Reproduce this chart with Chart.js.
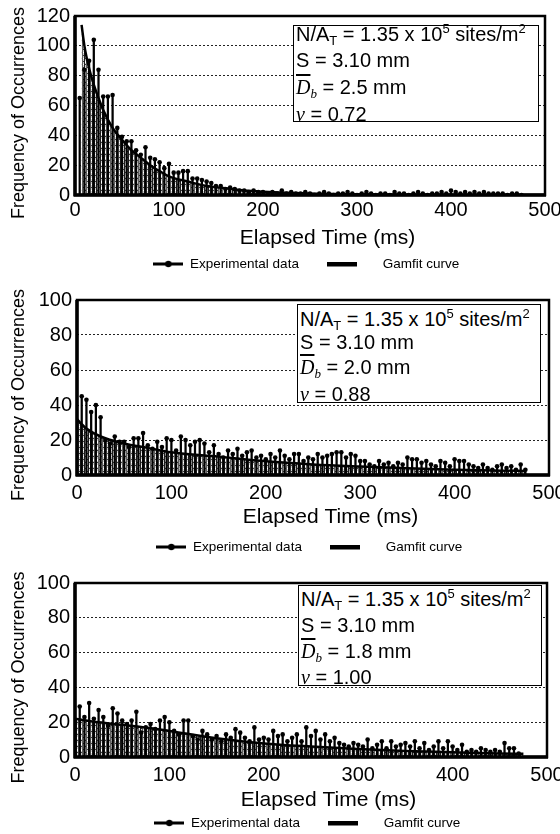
<!DOCTYPE html>
<html>
<head>
<meta charset="utf-8">
<title>Bubble departure time distributions</title>
<script src="https://cdn.jsdelivr.net/npm/chart.js@4.4.0/dist/chart.umd.min.js"></script>
<style>
  html, body { margin: 0; padding: 0; background: #fff; }
  body { position: relative; width: 560px; height: 834px; overflow: hidden; font-family: "Liberation Sans", Arial, sans-serif; }
  canvas { position: absolute; left: 0; }
  .info { position: absolute; box-sizing: border-box; background: #fff; border: 1.5px solid #000; color: #000; font-size: 20px; }
  .info div { position: absolute; left: 2px; line-height: 20px; white-space: nowrap; }
  .sub { font-size: 13px; position: relative; top: 4px; }
  .sup { font-size: 13px; position: relative; top: -8px; }
  .serif { font-family: "Liberation Serif", "Times New Roman", serif; font-style: italic; }
  .ov { text-decoration: overline; }
</style>
</head>
<body>
<script>
// ---- data ----
const binTimes = [
  5, 10, 15, 20, 25, 30, 35, 40, 45, 50,
  55, 60, 65, 70, 75, 80, 85, 90, 95, 100,
  105, 110, 115, 120, 125, 130, 135, 140, 145, 150,
  155, 160, 165, 170, 175, 180, 185, 190, 195, 200,
  205, 210, 215, 220, 225, 230, 235, 240, 245, 250,
  255, 260, 265, 270, 275, 280, 285, 290, 295, 300,
  305, 310, 315, 320, 325, 330, 335, 340, 345, 350,
  355, 360, 365, 370, 375, 380, 385, 390, 395, 400,
  405, 410, 415, 420, 425, 430, 435, 440, 445, 450,
  455, 460, 465, 470, 475, 480
];

const expFreq1 = [
  65, 84, 90, 104, 84, 66, 66, 67, 45, 39,
  36, 36, 30, 27, 32, 25, 24, 22, 18, 21,
  15, 15, 16, 16, 11, 11, 10, 9, 8, 6,
  6, 4, 5, 4, 3, 3, 2, 3, 2, 2,
  1, 2, 1, 3, 1, 2, 1, 1, 2, 1,
  0, 1, 2, 1, 0, 1, 1, 2, 1, 0,
  1, 2, 1, 0, 1, 1, 0, 2, 1, 1,
  0, 1, 2, 1, 0, 1, 1, 2, 1, 3,
  2, 1, 2, 1, 2, 1, 2, 1, 1, 1,
  1, 0, 1, 1, 0, null
];

const expFreq2 = [
  45, 43, 36, 40, 33, 20, 18, 22, 19, 19,
  16, 21, 21, 24, 17, 15, 19, 16, 21, 20,
  14, 22, 20, 17, 19, 20, 18, 13, 17, 12,
  10, 14, 12, 15, 11, 13, 14, 10, 11, 9,
  12, 10, 14, 11, 9, 12, 12, 8, 10, 9,
  12, 10, 11, 12, 13, 13, 10, 12, 11, 8,
  8, 6, 5, 8, 6, 7, 5, 7, 6, 10,
  9, 9, 7, 8, 6, 5, 8, 7, 5, 9,
  8, 8, 6, 5, 4, 6, 4, 3, 5, 6,
  4, 5, 3, 6, 3, null
];

const expFreq3 = [
  29, 23, 31, 22, 27, 23, 18, 28, 25, 21,
  19, 21, 26, 14, 17, 19, 16, 21, 23, 20,
  15, 13, 21, 21, 12, 10, 15, 13, 10, 12,
  9, 13, 11, 16, 14, 11, 9, 17, 10, 11,
  10, 15, 12, 13, 9, 11, 13, 9, 17, 12,
  15, 10, 13, 9, 11, 8, 7, 6, 8, 7,
  6, 10, 5, 7, 9, 5, 9, 6, 7, 8,
  6, 9, 5, 8, 4, 6, 9, 5, 9, 6,
  4, 7, 3, 4, 3, 5, 4, 3, 4, 3,
  8, 5, 5, 2, null, null
];

const fitTimes1 = [7, 10, 15, 20, 25, 30, 40, 50, 60, 70, 80, 90, 100, 120, 140, 160, 180, 200, 250, 300, 350, 400, 450, 500];
const fitFreq1  = [114, 100, 85, 74, 65, 57, 45, 37, 30, 25, 20, 16, 12.5, 9, 6, 4.5, 3, 2.2, 1, 0.5, 0.2, 0.1, 0, 0];
const fitTimes2 = [0, 5, 10, 25, 50, 75, 100, 150, 200, 250, 300, 350, 400, 450, 475];
const fitFreq2  = [32, 29, 26.5, 22, 18, 15.5, 13, 10.5, 7.8, 6, 4.8, 3.8, 3, 2.5, 2.3];
const fitTimes3 = [0, 25, 50, 75, 100, 150, 200, 250, 300, 350, 400, 450, 475];
const fitFreq3  = [22, 20, 18.5, 17, 15, 10.8, 7.8, 6, 4.6, 3.5, 2.7, 2, 1.8];

const xTicks = [0, 100, 200, 300, 400, 500];
const yTicksTall = [0, 20, 40, 60, 80, 100, 120];
const yTicksShort = [0, 20, 40, 60, 80, 100];

const siteDensity = '1.35';
const siteExponent = '5';
const spacing = '3.10';
const bubbleDiam = ['2.5', '2.0', '1.8'];
const nuValues = ['0.72', '0.88', '1.00'];

const expSeries = [expFreq1, expFreq2, expFreq3];
const fitTimes = [fitTimes1, fitTimes2, fitTimes3];
const fitFreqs = [fitFreq1, fitFreq2, fitFreq3];
const yTickSets = [yTicksTall, yTicksShort, yTicksShort];

// ---- layout (page pixels, each panel is its own canvas) ----
const CANVAS_H = 290;  // canvases overlap a little, they are transparent
const layout = [
  { top: 0,   area: { top: 16, bottom: 195, left: 75, right: 545 }, tickY: 210, titleY: 238, legendY: 264,
    box: { left: 293, top: 25, width: 246, height: 97 },  lines: [-2.5, 24, 51, 77.5] },
  { top: 278, area: { top: 22, bottom: 197, left: 77, right: 549 }, tickY: 215, titleY: 239, legendY: 269,
    box: { left: 297, top: 304, width: 244, height: 99 }, lines: [3.5, 26.5, 51.5, 78.5] },
  { top: 556, area: { top: 27, bottom: 201, left: 75, right: 547 }, tickY: 219, titleY: 244, legendY: 267,
    box: { left: 298, top: 585, width: 244, height: 101 }, lines: [2.5, 29, 54.5, 80.5] }
];

const FONT = '"Liberation Sans", Arial, sans-serif';
Chart.defaults.font.family = FONT;
Chart.defaults.color = '#000';

// speckled vertical hatch like the printed histogram
function makeHatch() {
  const c = document.createElement('canvas');
  c.width = 4; c.height = 6;
  const g = c.getContext('2d');
  g.fillStyle = '#cfcfcf'; g.fillRect(0, 0, 4, 6);
  g.fillStyle = '#1c1c1c'; g.fillRect(0, 0, 1, 6);
  g.fillStyle = '#5e5e5e'; g.fillRect(2, 0, 1, 6);
  g.fillStyle = '#ffffff'; g.fillRect(1, 1, 1, 2); g.fillRect(3, 4, 1, 1);
  g.fillStyle = '#3a3a3a'; g.fillRect(3, 1, 1, 1); g.fillRect(1, 4, 1, 1);
  return g.createPattern(c, 'repeat');
}
const hatch = makeHatch();

function legendIcon(kind) {
  const c = document.createElement('canvas');
  c.width = 30; c.height = 10;
  const g = c.getContext('2d');
  g.fillStyle = '#000';
  if (kind === 'exp') {
    g.fillRect(0, 3.5, 30, 3);
    g.beginPath(); g.arc(15, 5, 3.2, 0, Math.PI * 2); g.fill();
  } else {
    g.fillRect(0, 3, 30, 4.5);
  }
  return c;
}
const expIcon = legendIcon('exp');
const fitIcon = legendIcon('fit');

const framePlugin = {
  id: 'frame',
  afterDatasetsDraw(chart) {
    const { ctx, chartArea: a } = chart;
    ctx.save();
    ctx.strokeStyle = '#000';
    ctx.lineWidth = 2.5;
    ctx.strokeRect(a.left, a.top, a.right - a.left, a.bottom - a.top);
    ctx.lineWidth = 3.5;
    ctx.beginPath();
    ctx.moveTo(a.left, a.top); ctx.lineTo(a.left, a.bottom + 1.5);
    ctx.moveTo(a.left - 1, a.bottom); ctx.lineTo(a.right + 1, a.bottom);
    ctx.stroke();
    ctx.restore();
  }
};

const LEG_FONT = 13.5, LEG_PAD = 2, LEG_EXTRA = 8;

function buildPanel(i) {
  const p = layout[i];
  const canvas = document.createElement('canvas');
  canvas.width = 560; canvas.height = CANVAS_H;
  canvas.style.top = p.top + 'px';
  document.body.appendChild(canvas);

  const expPoints = binTimes
    .map((t, k) => ({ x: t, y: expSeries[i][k] }))
    .filter(d => d.y !== null);
  const fitPoints = fitTimes[i].map((t, k) => ({ x: t, y: fitFreqs[i][k] }));
  const yTicks = yTickSets[i];

  const legendTop = p.legendY - LEG_PAD - LEG_FONT / 2;
  const legendH = LEG_FONT + 2 * LEG_PAD + LEG_EXTRA;
  const padBottom = CANVAS_H - (legendTop + legendH);
  const xHeight = legendTop - p.area.bottom;

  new Chart(canvas, {
    type: 'bar',
    data: {
      datasets: [
        {
          type: 'line', label: 'Gamfit curve', data: fitPoints,
          borderColor: '#000', borderWidth: 2.5, pointRadius: 0,
          cubicInterpolationMode: 'monotone',
          fill: 'origin', backgroundColor: hatch, order: 0
        },
        {
          type: 'line', label: 'Experimental data', data: expPoints,
          showLine: false, pointRadius: 2.3, pointBorderWidth: 0,
          pointBackgroundColor: '#000', order: 1
        },
        {
          type: 'bar', label: 'stems', data: expPoints,
          backgroundColor: '#000', barThickness: 1.6, order: 2
        }
      ]
    },
    options: {
      responsive: false,
      animation: false,
      devicePixelRatio: 1,
      layout: { padding: { top: p.area.top, right: 560 - p.area.right, bottom: padBottom, left: 0 } },
      scales: {
        x: {
          type: 'linear', min: 0, max: 500, offset: false,
          grid: { display: false, drawTicks: false },
          border: { display: false },
          afterBuildTicks: s => { s.ticks = xTicks.map(v => ({ value: v })); },
          ticks: {
            font: { size: 20 }, color: '#000', maxRotation: 0, autoSkip: false,
            padding: p.tickY - p.area.bottom - 12
          },
          title: {
            display: true, text: '      Elapsed Time (ms)', color: '#000',
            font: { size: 21 }, padding: { top: 0, bottom: legendTop - p.titleY - 12.6 }
          },
          afterFit: s => { s.height = xHeight; s.paddingLeft = 0; s.paddingRight = 0; }
        },
        y: {
          min: 0, max: yTicks[yTicks.length - 1],
          grid: { color: '#222', lineWidth: 1, drawTicks: false },
          border: { display: false, dash: [2, 2] },
          afterBuildTicks: s => { s.ticks = yTicks.map(v => ({ value: v })); },
          ticks: { font: { size: 20 }, color: '#000', padding: 5 },
          title: {
            display: true, text: 'Frequency of Occurrences   ', color: '#000',
            font: { size: 18 }, padding: { top: 8, bottom: 0 }
          },
          afterFit: s => { s.width = p.area.left; s.paddingTop = 0; s.paddingBottom = 0; }
        }
      },
      plugins: {
        filler: { drawTime: 'beforeDatasetsDraw' },
        tooltip: { enabled: false },
        legend: {
          position: 'bottom',
          fullSize: false,
          labels: {
            usePointStyle: true, pointStyleWidth: 30, padding: LEG_PAD,
            color: '#000', font: { size: LEG_FONT },
            generateLabels: () => [
              { text: 'Experimental data       ', pointStyle: expIcon, fillStyle: '#000', strokeStyle: '#000', lineWidth: 0, hidden: false, datasetIndex: 1 },
              { text: '     Gamfit curve  ', pointStyle: fitIcon, fillStyle: '#000', strokeStyle: '#000', lineWidth: 0, hidden: false, datasetIndex: 0 }
            ]
          }
        }
      }
    },
    plugins: [framePlugin]
  });

  // parameter box
  const box = document.createElement('div');
  box.className = 'info';
  Object.assign(box.style, {
    left: p.box.left + 'px', top: p.box.top + 'px',
    width: p.box.width + 'px', height: p.box.height + 'px'
  });
  const lines = [
    `N/A<span class="sub">T</span> = ${siteDensity} x 10<span class="sup">${siteExponent}</span> sites/m<span class="sup">2</span>`,
    `S = ${spacing} mm`,
    `<span class="serif ov">D</span><span class="serif sub">b</span> = ${bubbleDiam[i]} mm`,
    `<span class="serif">&nu;</span> = ${nuValues[i]}`
  ];
  lines.forEach((html, k) => {
    const d = document.createElement('div');
    d.style.top = p.lines[k] + 'px';
    d.innerHTML = html;
    box.appendChild(d);
  });
  document.body.appendChild(box);
}

[0, 1, 2].forEach(buildPanel);
</script>
</body>
</html>
